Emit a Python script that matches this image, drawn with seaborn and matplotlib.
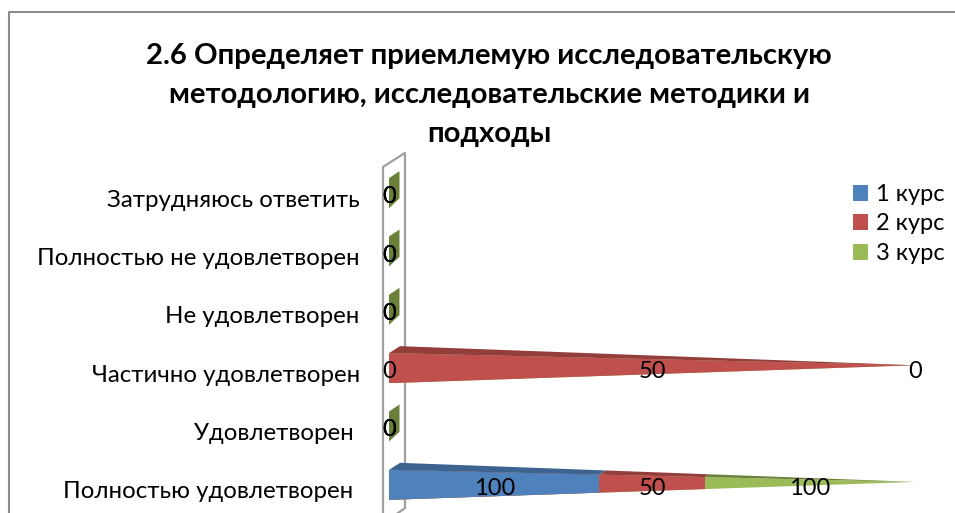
import numpy as np
import pandas as pd
import matplotlib
matplotlib.use('Agg')
import matplotlib.pyplot as plt
from matplotlib.patches import Polygon
from matplotlib.lines import Line2D
from matplotlib.transforms import ScaledTranslation
import seaborn as sns

# ── data ──────────────────────────────────────────────────────────────────────
categories = ['Затрудняюсь ответить', 'Полностью не удовлетворен', 'Не удовлетворен',
              'Частично удовлетворен', 'Удовлетворен ', 'Полностью удовлетворен ']
course_1 = [0, 0, 0, 0, 0, 100]
course_2 = [0, 0, 0, 50, 0, 50]
course_3 = [0, 0, 0, 0, 0, 100]
series_names = ['1 курс', '2 курс', '3 курс']
title = ('2.6 Определяет приемлемую исследовательскую\n'
         'методологию, исследовательские методики и\nподходы')

colors = ['#4F81BD', '#C0504D', '#9BBB59']
dark_colors = ['#3D6391', '#943E3C', '#6A7F38']

sns.set_theme(style='white')
plt.rcParams['font.family'] = ['Lato', 'DejaVu Sans']
text_size = 17

W, H = 955, 513
fig = plt.figure(figsize=(W / 100, H / 100), dpi=100)
# plot area: 0..100 % runs 389..915 px, six rows from 164 px down to the crop
ax = fig.add_axes([389 / W, 0 - 1 / H, 526 / W, (H + 1 - 164) / H])
ax.patch.set_alpha(0)

df = pd.DataFrame({'category': categories, '1 курс': course_1,
                   '2 курс': course_2, '3 курс': course_3})
values = df[series_names].to_numpy(dtype=float)
totals = values.sum(axis=1)
shares = np.divide(values, totals[:, None], out=np.zeros_like(values),
                   where=totals[:, None] > 0) * 100
cum = np.cumsum(shares, axis=1)
for j, name in enumerate(series_names):
    df['cum_' + name] = cum[:, j]

# 3d look of the bars
bar_h = 0.515
depth_x = 2.1
depth_y = 0.12
apex_shift = -0.05

# stacked: biggest cumulative first, the shorter ones go on top
for j in [2, 1, 0]:
    sns.barplot(data=df, y='category', x='cum_' + series_names[j], order=categories,
                color=colors[j], saturation=1, width=bar_h, ax=ax, zorder=3, linewidth=0)

ax.set_xlim(0, 100)
ax.set_ylim(5.5, -0.5)
ax.set_xlabel('')
ax.set_ylabel('')
ax.xaxis.set_visible(False)
ax.tick_params(axis='y', left=False, pad=15, labelsize=17.3, labelcolor='black')
sns.despine(ax=ax, left=True, bottom=True)

# category labels sit a little below the bar centres
shift = ScaledTranslation(0, -5 / 100, fig.dpi_scale_trans)
for label in ax.get_yticklabels():
    label.set_transform(label.get_transform() + shift)

# cut the bars down to pyramids
for bar in ax.patches:
    row = int(round(bar.get_y() + bar.get_height() / 2))
    tri = Polygon([(0, row - bar_h / 2), (0, row + bar_h / 2), (100, row + apex_shift)],
                  closed=True, transform=ax.transData)
    bar.set_clip_path(tri)

# top faces
for i in range(len(categories)):
    top = i - bar_h / 2
    apex = i + apex_shift
    if totals[i] == 0:
        # empty row: only the end of the zero height pyramid shows
        ax.add_patch(Polygon([(0, top), (0, i + bar_h / 2), (depth_x * 0.95, i + 0.09),
                              (depth_x * 0.95, top - depth_y)],
                             closed=True, fc=dark_colors[2], ec='none', zorder=3, clip_on=False))
        continue
    start = 0
    for j in range(3):
        if shares[i, j] == 0:
            continue
        t0, t1 = start / 100, (start + shares[i, j]) / 100
        front = [(start, top + t0 * (apex - top)), (start + shares[i, j], top + t1 * (apex - top))]
        back_top = top - depth_y
        back = [(depth_x + t1 * (100 - depth_x), back_top + t1 * (apex - back_top)),
                (depth_x + t0 * (100 - depth_x), back_top + t0 * (apex - back_top))]
        ax.add_patch(Polygon(front + back, closed=True, fc=dark_colors[j], ec='none',
                             zorder=3, clip_on=False))
        start += shares[i, j]

# back wall of the 3d chart
wall = '#A0A0A0'
wall_x = [-1.14, 3.04]
ax.plot([wall_x[0], wall_x[0], wall_x[1], wall_x[1], wall_x[0]],
        [5.6, -0.45, -0.69, 5.4, 5.66], color=wall, lw=1.6, zorder=1, clip_on=False)

# data labels in the middle of each segment
for i in range(len(categories)):
    start = 0
    for j in range(3):
        ax.text(start + shares[i, j] / 2 if totals[i] else 0, i + 0.06, f'{values[i, j]:.0f}',
                ha='center', va='center', fontsize=text_size, color='black', zorder=5, clip_on=False)
        start += shares[i, j]

# legend
handles = [plt.Rectangle((0, 0), 1, 1, fc=c, ec='none') for c in colors]
fig.legend(handles, series_names, loc='upper left', bbox_to_anchor=(853 / W, 1 - 184 / H),
           frameon=False, fontsize=text_size, handlelength=0.64, handleheight=0.64,
           handletextpad=0.34, labelspacing=0.36, borderpad=0, borderaxespad=0,
           labelcolor='black')

fig.text(489 / W, 1 - 95 / H, title, ha='center', va='center', fontsize=21.1,
         fontweight='bold', color='black', linespacing=1.6)

# chart frame, the crop cuts it on the right and at the bottom
frame = '#8C8C8C'
fig.add_artist(Line2D([9 / W, 9 / W, 1], [0, 1 - 12 / H, 1 - 12 / H], color=frame, lw=1.5))

fig.savefig('out.png', dpi=100)
